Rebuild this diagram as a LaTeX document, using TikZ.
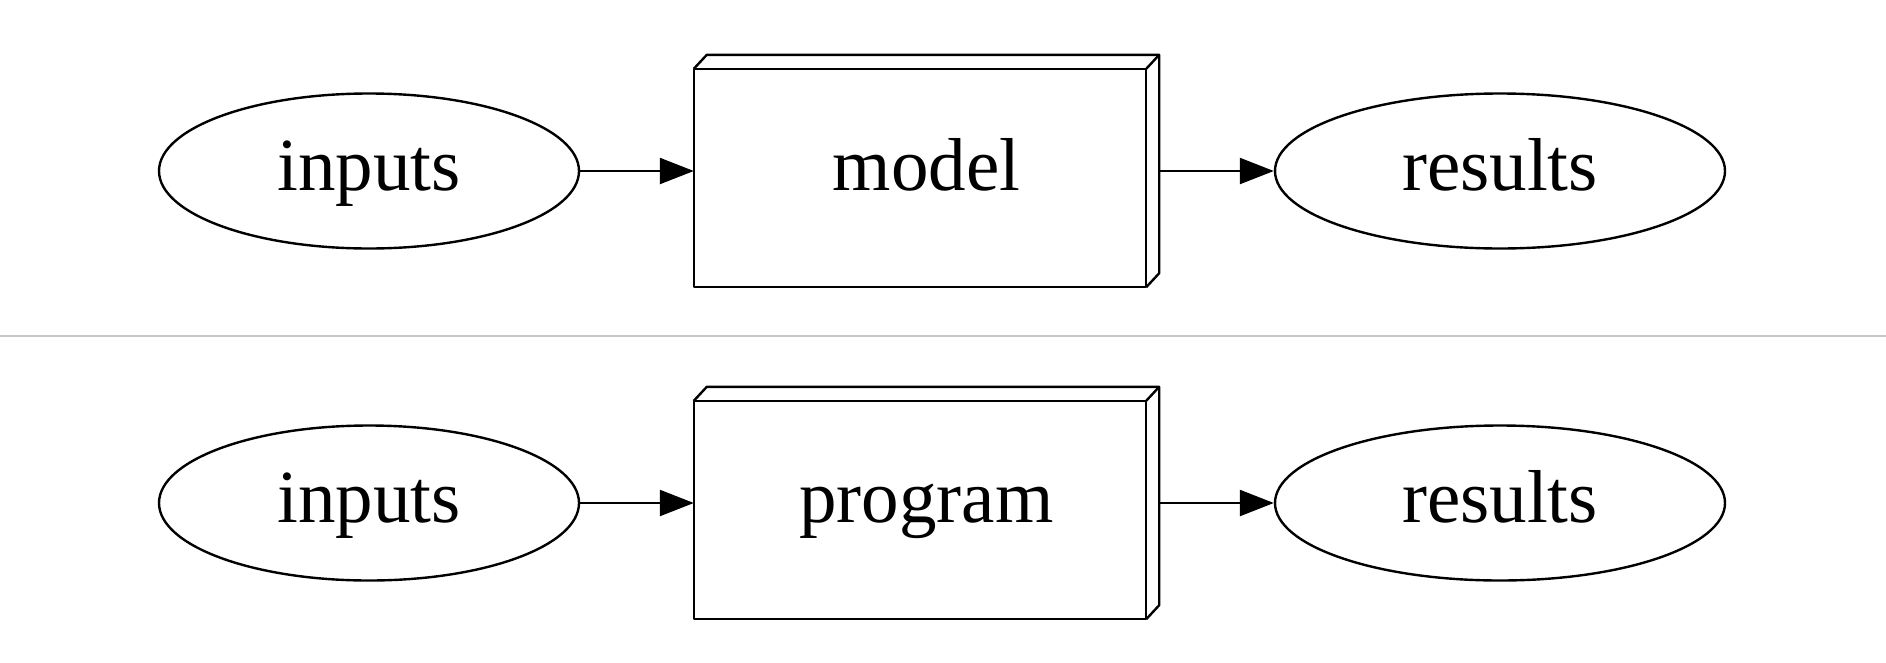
\documentclass[tikz,border=0pt]{standalone}
\usepackage{fontspec}
\setmainfont{Liberation Serif}
\usetikzlibrary{shapes.geometric,arrows.meta,calc}
\begin{document}
\begin{tikzpicture}[x=1pt,y=-1pt,
  every node/.style={font=\fontsize{75}{90}\selectfont,text height=52pt,text depth=14pt},
  ell/.style={draw,ellipse,line width=2.4pt,inner sep=0pt},
  box3d/.style={rectangle,minimum width=465pt,minimum height=232pt,inner sep=0pt},
  face/.style={draw,line width=2.4pt,line join=round},
  arr/.style={line width=2.4pt,-{Triangle[length=34pt,width=26pt]}},
  sep/.style={draw=black!22,line width=1.5pt}]
\fill[white] (0,0) rectangle (1886,662);
\useasboundingbox (0,0) rectangle (1886,662);
% top row
\node[ell,minimum width=420pt,minimum height=155pt] (i1) at (369,171) {inputs};
\node[box3d] (m1) at (926.5,171) {model};
\draw[face] (m1.south west) rectangle ($(m1.north east)+(-13,14)$);
\draw[face] ($(m1.north west)+(0,14)$) -- ($(m1.north west)+(13,0)$) -- (m1.north east) -- ($(m1.south east)+(0,-14)$) -- ($(m1.south east)+(-13,0)$);
\draw[face] ($(m1.north east)+(-13,14)$) -- (m1.north east);
\node[ell,minimum width=450pt,minimum height=155pt] (r1) at (1500,171) {results};
\draw[arr] (i1.east) -- (i1.east -| m1.west);
\draw[arr] (m1.east) -- (r1.west);
% separator
\coordinate (sl) at (0,336);
\coordinate (sr) at (1886,336);
\draw[sep] (sl) -- (sr);
% bottom row
\node[ell,minimum width=420pt,minimum height=155pt] (i2) at (369,503) {inputs};
\node[box3d] (m2) at (926.5,503) {program};
\draw[face] (m2.south west) rectangle ($(m2.north east)+(-13,14)$);
\draw[face] ($(m2.north west)+(0,14)$) -- ($(m2.north west)+(13,0)$) -- (m2.north east) -- ($(m2.south east)+(0,-14)$) -- ($(m2.south east)+(-13,0)$);
\draw[face] ($(m2.north east)+(-13,14)$) -- (m2.north east);
\node[ell,minimum width=450pt,minimum height=155pt] (r2) at (1500,503) {results};
\draw[arr] (i2.east) -- (i2.east -| m2.west);
\draw[arr] (m2.east) -- (r2.west);
\end{tikzpicture}
\end{document}
